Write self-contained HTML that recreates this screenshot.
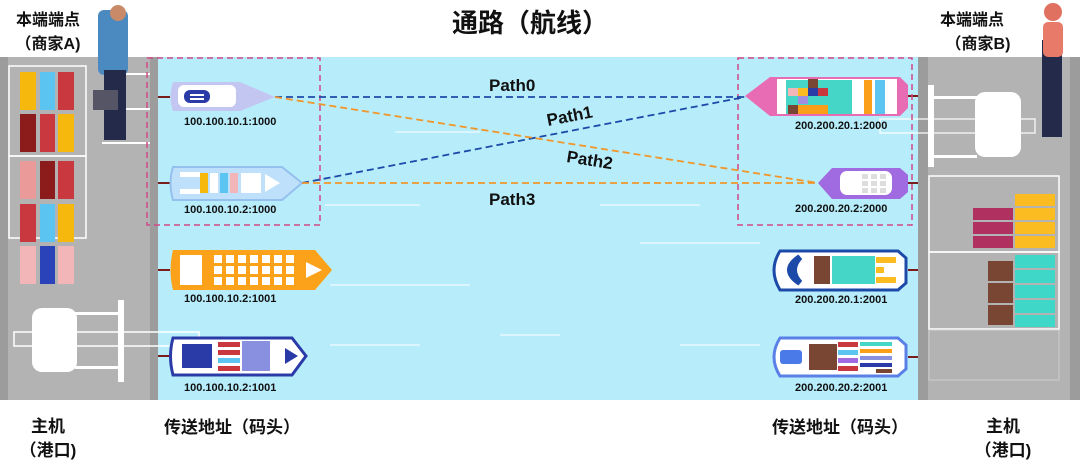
<!DOCTYPE html>
<html><head><meta charset="utf-8"><style>
body{margin:0;width:1080px;height:462px;overflow:hidden;background:#fff;font-family:"Liberation Sans","Noto Sans CJK SC",sans-serif}
</style></head><body>
<svg width="1080" height="462" viewBox="0 0 1080 462" xmlns="http://www.w3.org/2000/svg" font-family="Liberation Sans, Noto Sans CJK SC, sans-serif">
<rect x="0" y="57" width="1080" height="343" fill="#b7edfb"/>
<!-- left dock -->
<rect x="0" y="57" width="158" height="343" fill="#b3b3b3"/>
<rect x="0" y="57" width="8" height="343" fill="#9c9c9c"/>
<rect x="150" y="57" width="8" height="343" fill="#9c9c9c"/>
<rect x="9" y="66" width="77" height="90" fill="none" stroke="#fff" stroke-width="1.5"/>
<rect x="9" y="156" width="77" height="82" fill="none" stroke="#fff" stroke-width="1.5"/>
<g>
<rect x="20" y="72" width="16" height="38" fill="#f7b80e"/><rect x="40" y="72" width="15" height="38" fill="#5bc4f0"/><rect x="58" y="72" width="16" height="38" fill="#c8383e"/>
<rect x="20" y="114" width="16" height="38" fill="#8c1c1c"/><rect x="40" y="114" width="15" height="38" fill="#c8383e"/><rect x="58" y="114" width="16" height="38" fill="#f7b80e"/>
<rect x="20" y="161" width="16" height="38" fill="#eb9a9a"/><rect x="40" y="161" width="15" height="38" fill="#8c1c1c"/><rect x="58" y="161" width="16" height="38" fill="#c8383e"/>
<rect x="20" y="204" width="16" height="38" fill="#c8383e"/><rect x="40" y="204" width="15" height="38" fill="#5bc4f0"/><rect x="58" y="204" width="16" height="38" fill="#f7b80e"/>
<rect x="20" y="246" width="16" height="38" fill="#f2b5b8"/><rect x="40" y="246" width="15" height="38" fill="#2a43b8"/><rect x="58" y="246" width="16" height="38" fill="#f2b5b8"/>
</g>
<rect x="14" y="332" width="185" height="14" fill="none" stroke="#fff" stroke-width="1.5"/>
<rect x="32" y="308" width="45" height="64" rx="10" fill="#fff"/>
<rect x="118" y="300" width="6" height="82" fill="#fff"/>
<rect x="75" y="312" width="45" height="3" fill="#fff"/><rect x="75" y="366" width="45" height="3" fill="#fff"/>
<rect x="102" y="73" width="48" height="2" fill="#fff"/><rect x="102" y="108" width="48" height="2" fill="#fff"/><rect x="102" y="142" width="48" height="2" fill="#fff"/>
<!-- person left -->
<rect x="98" y="10" width="30" height="65" rx="6" fill="#4a8ac0"/>
<circle cx="118" cy="13" r="8" fill="#c98a6a"/>
<rect x="104" y="70" width="22" height="70" fill="#242a4a"/>
<rect x="93" y="90" width="25" height="20" fill="#555566"/>
<!-- right dock -->
<rect x="918" y="57" width="162" height="343" fill="#b3b3b3"/>
<rect x="918" y="57" width="10" height="343" fill="#9c9c9c"/>
<rect x="1070" y="57" width="10" height="343" fill="#9c9c9c"/>
<rect x="880" y="119" width="155" height="14" fill="none" stroke="#fff" stroke-width="1.5" opacity=".8"/>
<rect x="928" y="85" width="6" height="82" fill="#fff"/>
<rect x="975" y="92" width="46" height="65" rx="10" fill="#fff"/>
<rect x="932" y="96" width="45" height="3" fill="#fff"/><rect x="932" y="155" width="45" height="3" fill="#fff"/>
<rect x="929" y="176" width="130" height="76" fill="none" stroke="#fff" stroke-width="1.5"/>
<rect x="929" y="252" width="130" height="77" fill="none" stroke="#fff" stroke-width="1.5"/>
<rect x="973" y="208" width="40" height="12" fill="#b03060"/><rect x="973" y="222" width="40" height="12" fill="#b03060"/><rect x="973" y="236" width="40" height="12" fill="#b03060"/>
<rect x="1015" y="194" width="40" height="12" fill="#fbbc22"/><rect x="1015" y="208" width="40" height="12" fill="#fbbc22"/><rect x="1015" y="222" width="40" height="12" fill="#fbbc22"/><rect x="1015" y="236" width="40" height="12" fill="#fbbc22"/>
<rect x="988" y="261" width="25" height="20" fill="#784632"/><rect x="988" y="283" width="25" height="20" fill="#784632"/><rect x="988" y="305" width="25" height="20" fill="#784632"/>
<rect x="1015" y="255" width="40" height="13" fill="#3fd8c8"/><rect x="1015" y="270" width="40" height="13" fill="#3fd8c8"/><rect x="1015" y="285" width="40" height="13" fill="#3fd8c8"/><rect x="1015" y="300" width="40" height="13" fill="#3fd8c8"/><rect x="1015" y="315" width="40" height="12" fill="#3fd8c8"/>
<rect x="929" y="330" width="130" height="50" fill="none" stroke="#ccc" stroke-width="1"/>
<rect x="1042" y="40" width="20" height="97" fill="#242a4a"/>
<circle cx="1053" cy="12" r="9" fill="#e07060"/>
<rect x="1043" y="22" width="20" height="35" rx="5" fill="#e87a6a"/>
<!-- bollard lines -->
<g stroke="#7a1c1c" stroke-width="2">
<line x1="158" y1="97" x2="170" y2="97"/><line x1="158" y1="183" x2="170" y2="183"/><line x1="158" y1="270" x2="170" y2="270"/><line x1="158" y1="356" x2="170" y2="356"/>
<line x1="908" y1="96" x2="918" y2="96"/><line x1="908" y1="183" x2="918" y2="183"/><line x1="908" y1="270" x2="918" y2="270"/><line x1="908" y1="357" x2="918" y2="357"/>
</g>
<!-- water lines -->
<g stroke="#e6f8fe" stroke-width="1.5">
<line x1="325" y1="205" x2="420" y2="205"/><line x1="600" y1="205" x2="700" y2="205"/><line x1="330" y1="285" x2="470" y2="285"/><line x1="640" y1="243" x2="760" y2="243"/><line x1="330" y1="345" x2="420" y2="345"/><line x1="500" y1="335" x2="560" y2="335"/><line x1="680" y1="345" x2="760" y2="345"/><line x1="395" y1="132" x2="480" y2="132"/>
</g>
<!-- dashed boxes -->
<rect x="147" y="58" width="173" height="167" fill="none" stroke="#d04a86" stroke-width="1.5" stroke-dasharray="6,4"/>
<rect x="738" y="58" width="174" height="167" fill="none" stroke="#d04a86" stroke-width="1.5" stroke-dasharray="6,4"/>
<!-- left ships -->
<path d="M173 82 H240 L275 97 L240 111 H173 Q168 97 173 82Z" fill="#c4c6f2"/>
<rect x="178" y="85" width="58" height="22" rx="6" fill="#fff"/>
<rect x="184" y="90" width="26" height="13" rx="6" fill="#2a3ba8"/>
<rect x="190" y="94" width="14" height="2" fill="#fff"/><rect x="190" y="98" width="14" height="2" fill="#fff"/>
<path d="M173 167 H282 L302 183 L282 200 H173 Q168 183 173 167Z" fill="#bfe0fa" stroke="#94c0ee" stroke-width="2"/>
<rect x="180" y="172" width="20" height="5" fill="#fff"/><rect x="180" y="189" width="20" height="5" fill="#fff"/>
<rect x="200" y="173" width="8" height="20" fill="#f7b80e"/><rect x="210" y="173" width="8" height="20" fill="#fff"/><rect x="220" y="173" width="8" height="20" fill="#5bc4f0"/><rect x="230" y="173" width="8" height="20" fill="#f2b5b8"/>
<rect x="241" y="173" width="20" height="20" fill="#fff"/><path d="M265 174 L280 183 L265 192Z" fill="#fff"/>
<path d="M173 250 H315 L332 270 L315 290 H173 Q168 270 173 250Z" fill="#fba21a"/>
<rect x="180" y="255" width="22" height="30" fill="#fff"/>
<g fill="#fff"><rect x="214" y="255" width="8" height="8"/><rect x="226" y="255" width="8" height="8"/><rect x="238" y="255" width="8" height="8"/><rect x="250" y="255" width="8" height="8"/><rect x="262" y="255" width="8" height="8"/><rect x="274" y="255" width="8" height="8"/><rect x="286" y="255" width="8" height="8"/>
<rect x="214" y="266" width="8" height="8"/><rect x="226" y="266" width="8" height="8"/><rect x="238" y="266" width="8" height="8"/><rect x="250" y="266" width="8" height="8"/><rect x="262" y="266" width="8" height="8"/><rect x="274" y="266" width="8" height="8"/><rect x="286" y="266" width="8" height="8"/>
<rect x="214" y="277" width="8" height="8"/><rect x="226" y="277" width="8" height="8"/><rect x="238" y="277" width="8" height="8"/><rect x="250" y="277" width="8" height="8"/><rect x="262" y="277" width="8" height="8"/><rect x="274" y="277" width="8" height="8"/><rect x="286" y="277" width="8" height="8"/>
<path d="M306 262 L322 270 L306 278Z"/></g>
<path d="M173 338 H292 L306 356 L292 375 H173 Q168 356 173 338Z" fill="#fff" stroke="#2a3ba8" stroke-width="3"/>
<rect x="182" y="344" width="30" height="24" fill="#2a3ba8"/>
<rect x="218" y="342" width="22" height="5" fill="#c8383e"/><rect x="218" y="350" width="22" height="5" fill="#c8383e"/><rect x="218" y="358" width="22" height="5" fill="#5bc4f0"/><rect x="218" y="366" width="22" height="5" fill="#c8383e"/>
<rect x="242" y="341" width="28" height="30" fill="#8a90e0"/>
<path d="M285 348 L298 356 L285 364Z" fill="#2a3ba8"/>
<!-- right ships -->
<path d="M745 96 L770 77 H900 L908 85 V108 L900 116 H770Z" fill="#e86cb4"/>
<rect x="777" y="79" width="120" height="35" fill="#fff"/>
<rect x="786" y="80" width="66" height="34" fill="#45d6c8"/>
<rect x="808" y="79" width="10" height="9" fill="#784632"/><rect x="788" y="88" width="10" height="8" fill="#f2b5b8"/><rect x="798" y="88" width="10" height="8" fill="#fbbc22"/><rect x="808" y="88" width="10" height="8" fill="#2a3ba8"/><rect x="818" y="88" width="10" height="8" fill="#c8383e"/>
<rect x="798" y="96" width="10" height="8" fill="#a18ee0"/><rect x="788" y="105" width="10" height="9" fill="#784632"/><rect x="798" y="105" width="30" height="9" fill="#fb9f1a"/>
<rect x="864" y="80" width="8" height="34" fill="#fb9f1a"/><rect x="875" y="80" width="10" height="34" fill="#5bc4f0"/>
<circle cx="761" cy="96" r="3" fill="#e86cb4"/>
<path d="M818 183 L832 168 H900 L908 175 V192 L900 199 H832Z" fill="#a06ae0"/>
<rect x="840" y="171" width="52" height="24" rx="7" fill="#fff"/>
<g fill="#ddd"><rect x="862" y="174" width="6" height="5"/><rect x="871" y="174" width="6" height="5"/><rect x="880" y="174" width="6" height="5"/><rect x="862" y="181" width="6" height="5"/><rect x="871" y="181" width="6" height="5"/><rect x="880" y="181" width="6" height="5"/><rect x="862" y="188" width="6" height="5"/><rect x="871" y="188" width="6" height="5"/><rect x="880" y="188" width="6" height="5"/></g>
<path d="M780 251 H898 L906 258 V283 L898 290 H780 Q768 270 780 251Z" fill="#fff" stroke="#1c4aa8" stroke-width="3"/>
<path d="M800 257 Q780 270 800 283 Q788 270 800 257Z" fill="#1c4aa8" stroke="#1c4aa8" stroke-width="6"/>
<rect x="814" y="256" width="16" height="28" fill="#784632"/><rect x="832" y="256" width="43" height="28" fill="#45d6c8"/>
<rect x="876" y="257" width="20" height="6" fill="#fbbc22"/><rect x="876" y="267" width="8" height="6" fill="#fbbc22"/><rect x="876" y="277" width="20" height="6" fill="#fbbc22"/>
<path d="M780 338 H898 L906 345 V369 L898 376 H780 Q768 357 780 338Z" fill="#fff" stroke="#5a80e8" stroke-width="3"/>
<rect x="780" y="350" width="22" height="14" rx="3" fill="#4a7ae8"/>
<rect x="809" y="344" width="28" height="26" fill="#784632"/>
<rect x="838" y="342" width="20" height="5" fill="#c8383e"/><rect x="838" y="350" width="20" height="5" fill="#5bc4f0"/><rect x="838" y="358" width="20" height="5" fill="#a06ae0"/><rect x="838" y="366" width="20" height="5" fill="#c8383e"/>
<rect x="860" y="342" width="32" height="4" fill="#45d6c8"/><rect x="860" y="349" width="32" height="4" fill="#fb9f1a"/><rect x="860" y="356" width="32" height="4" fill="#8a90e0"/><rect x="860" y="363" width="32" height="4" fill="#2a3ba8"/><rect x="876" y="369" width="16" height="4" fill="#784632"/>
<!-- paths -->
<g fill="none" stroke-width="1.8" stroke-dasharray="7,4">
<line x1="275" y1="97" x2="745" y2="97" stroke="#1c4aa8"/>
<line x1="302" y1="183" x2="745" y2="97" stroke="#1c4aa8"/>
<line x1="275" y1="97" x2="818" y2="183" stroke="#f0962a"/>
<line x1="302" y1="183" x2="818" y2="183" stroke="#f0962a"/>
</g>
<g font-weight="bold" font-size="17" fill="#111">
<text x="489" y="91">Path0</text>
<text x="548" y="126" transform="rotate(-11 548 126)">Path1</text>
<text x="566" y="162" transform="rotate(9 566 162)">Path2</text>
<text x="489" y="205">Path3</text>
</g>
<!-- address labels -->
<g font-weight="bold" font-size="11" fill="#111">
<text x="184" y="125">100.100.10.1:1000</text>
<text x="184" y="213">100.100.10.2:1000</text>
<text x="184" y="302">100.100.10.2:1001</text>
<text x="184" y="391">100.100.10.2:1001</text>
<text x="795" y="129">200.200.20.1:2000</text>
<text x="795" y="212">200.200.20.2:2000</text>
<text x="795" y="303">200.200.20.1:2001</text>
<text x="795" y="391">200.200.20.2:2001</text>
</g>
<!-- titles -->
<g font-weight="bold" fill="#111" text-anchor="middle">
<text x="530" y="32" font-size="26">通路（航线）</text>
<text x="48" y="25" font-size="16">本端端点</text>
<text x="48" y="49" font-size="16">（商家A)</text>
<text x="972" y="25" font-size="16">本端端点</text>
<text x="978" y="49" font-size="16">（商家B)</text>
<text x="48" y="432" font-size="17">主机</text>
<text x="48" y="456" font-size="17">（港口)</text>
<text x="1003" y="432" font-size="17">主机</text>
<text x="1003" y="456" font-size="17">（港口)</text>
<text x="232" y="433" font-size="17">传送地址（码头）</text>
<text x="840" y="433" font-size="17">传送地址（码头）</text>
</g>
</svg>
</body></html>
